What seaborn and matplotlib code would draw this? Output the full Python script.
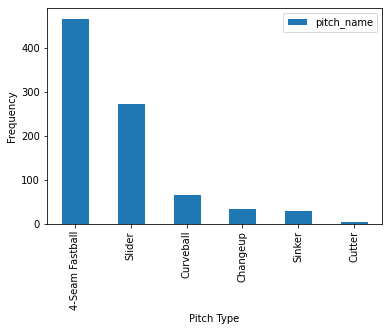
import matplotlib
matplotlib.use("Agg")
import matplotlib.pyplot as plt
import seaborn as sns
import pandas as pd

pitch_types = ["4-Seam Fastball", "Slider", "Curveball", "Changeup", "Sinker", "Cutter"]
counts = [468, 276, 68, 36, 32, 7]

df = pd.DataFrame({"Pitch Type": pitch_types, "pitch_name": counts})

sns.set_style("ticks")
plt.rcParams["font.family"] = ["DejaVu Sans"]
plt.rcParams["font.size"] = 10
plt.rcParams["text.color"] = "black"
plt.rcParams["axes.labelcolor"] = "black"
plt.rcParams["xtick.color"] = "black"
plt.rcParams["ytick.color"] = "black"

fig = plt.figure(figsize=(389 / 72, 332 / 72), dpi=72)
ax = fig.add_axes([47 / 389, 1 - 224 / 332, (382 - 47) / 389, (224 - 8) / 332])

sns.barplot(data=df, x="Pitch Type", y="pitch_name", color="#1f77b4",
            width=0.5, saturation=1, ax=ax, label="pitch_name")

ax.set_xlim(-0.5, len(pitch_types) - 0.5)
ax.set_ylim(0, 491)
ax.set_yticks([0, 100, 200, 300, 400])
ax.set_xlabel("Pitch Type")
ax.set_ylabel("Frequency")
ax.tick_params(axis="x", labelrotation=90)
for s in ax.spines.values():
    s.set_visible(True)
    s.set_color("black")
    s.set_linewidth(0.8)
ax.tick_params(length=3.5, width=0.8, color="black", labelcolor="black")
ax.legend(loc="upper right", frameon=True)

fig.savefig("out.png", dpi=72)
